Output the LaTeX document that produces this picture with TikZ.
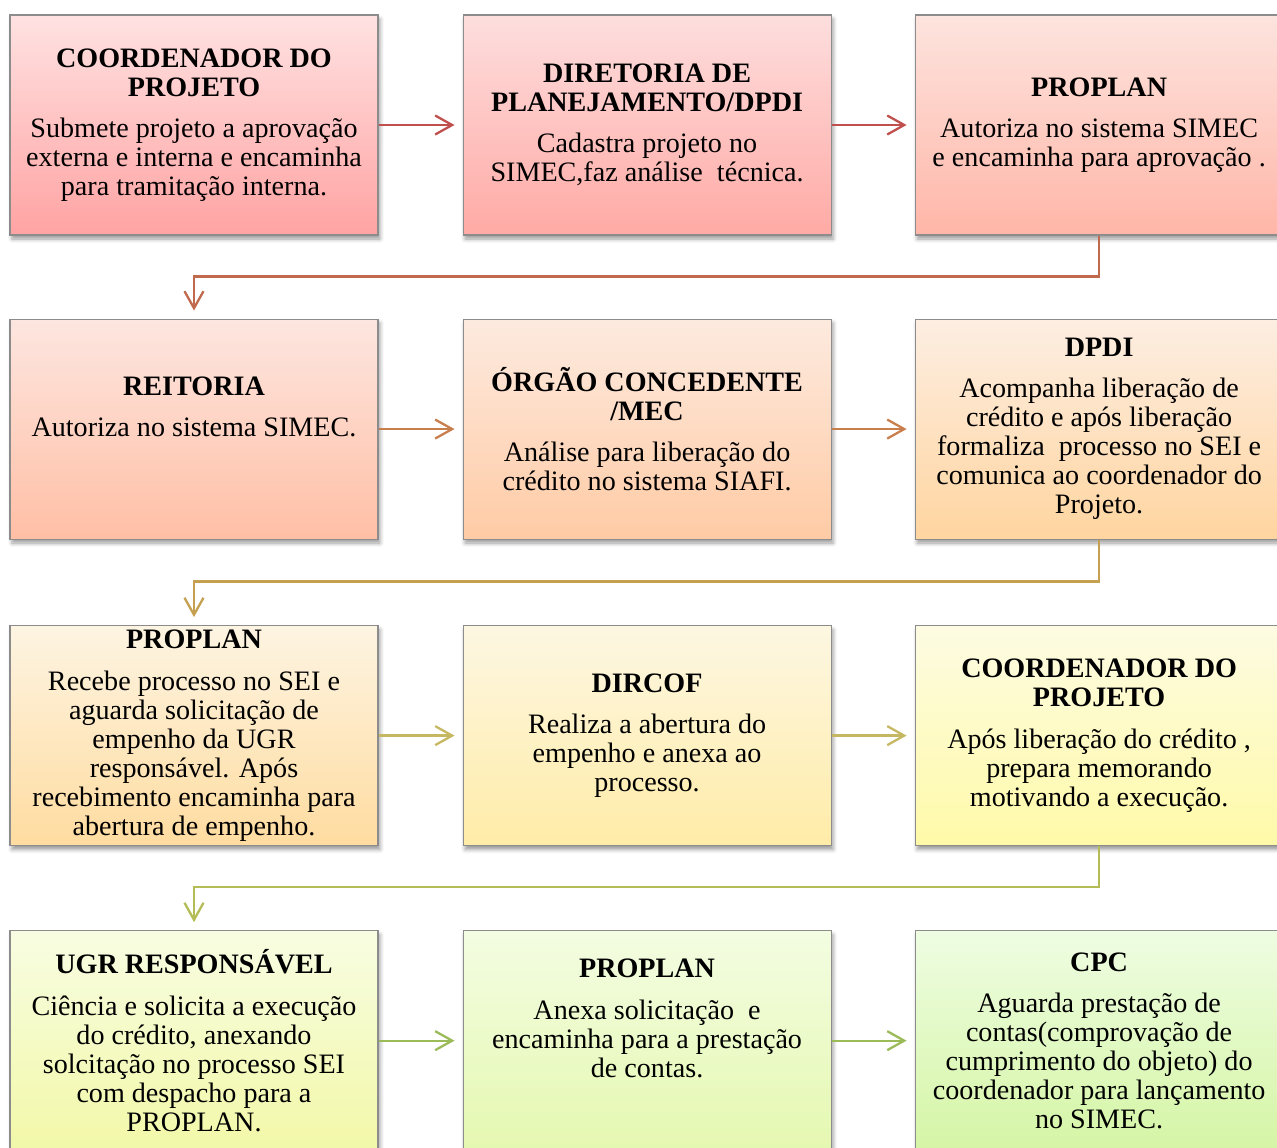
\documentclass[tikz,border=0pt]{standalone}
\usepackage{fontspec}
\setmainfont{Liberation Serif}
\usetikzlibrary{arrows.meta,positioning,shadows.blur}
% box shading, top and bottom, row by row
\definecolor{ta}{HTML}{FFE2E2}\definecolor{ua}{HTML}{FFA3A3}
\definecolor{tb}{HTML}{FDDEDE}\definecolor{ub}{HTML}{FFAAA5}
\definecolor{tc}{HTML}{FDE4DE}\definecolor{uc}{HTML}{FFB6A8}
\definecolor{td}{HTML}{FDE6E0}\definecolor{ud}{HTML}{FFBFA5}
\definecolor{te}{HTML}{FDEADF}\definecolor{ue}{HTML}{FFCBA5}
\definecolor{tf}{HTML}{FDEEE2}\definecolor{uf}{HTML}{FFD5A0}
\definecolor{tg}{HTML}{FDF4E2}\definecolor{ug}{HTML}{FFDCA0}
\definecolor{th}{HTML}{FDF7E2}\definecolor{uh}{HTML}{FFECA8}
\definecolor{ti}{HTML}{FDFBE2}\definecolor{ui}{HTML}{FFFAA8}
\definecolor{tj}{HTML}{F8FDE2}\definecolor{uj}{HTML}{F2F8A8}
\definecolor{tk}{HTML}{F3FDE2}\definecolor{uk}{HTML}{E5F8B0}
\definecolor{tl}{HTML}{EEFDE2}\definecolor{ul}{HTML}{D5F5A5}
% connector colours
\definecolor{ka}{HTML}{C0504D}\definecolor{kb}{HTML}{C0694C}
\definecolor{kc}{HTML}{C97E4E}\definecolor{kd}{HTML}{C4A050}
\definecolor{ke}{HTML}{C6B862}\definecolor{kf}{HTML}{B4BC55}
\definecolor{kg}{HTML}{9BBB59}
\definecolor{boxline}{HTML}{8C8C8C}
\tikzset{
  bx/.style 2 args = {rectangle, align=center, draw=boxline, line width=0.6pt,
    minimum width=7.36cm, minimum height=4.4cm, inner sep=0pt,
    font=\fontsize{16}{16.5}\selectfont, top color=#1, bottom color=#2,
    blur shadow={shadow xshift=0.4mm, shadow yshift=-0.8mm,
      shadow blur radius=0.8mm, shadow opacity=40}},% shaded step box
  ar/.style = {draw=#1, line width=1.3pt, shorten >=1.6mm,
    -{Straight Barb[length=3.4mm,width=3.8mm]}}% open arrow
}

\begin{document}
\begin{tikzpicture}
\useasboundingbox (-3.88,-20.44) rectangle (21.66,2.5);

\node[bx={ta}{ua}] (coord) at (0,0) {\textbf{COORDENADOR DO}\\\textbf{PROJETO}\\[7pt]
  Submete projeto a aprovação\\externa e interna e encaminha\\para tramitação interna.};
\node[bx={tb}{ub}, right=1.68cm of coord] (dirplan) {\textbf{DIRETORIA DE}\\\textbf{PLANEJAMENTO/DPDI}\\[7pt]
  Cadastra projeto no\\SIMEC,faz análise~ técnica.};
\node[bx={tc}{uc}, right=1.66cm of dirplan] (proplana) {\textbf{PROPLAN}\\[7pt]
  Autoriza no sistema SIMEC\\e encaminha para aprovação .};

\node[bx={td}{ud}, below=1.66cm of coord] (reitoria) {\textbf{REITORIA}\\[7pt]
  Autoriza no sistema SIMEC.\\[9pt]\mbox{}};
\node[bx={te}{ue}, right=1.68cm of reitoria] (orgao) {\textbf{ÓRGÃO CONCEDENTE}\\\textbf{/MEC}\\[7pt]
  Análise para liberação do\\crédito no sistema SIAFI.};
\node[bx={tf}{uf}, right=1.66cm of orgao] (dpdi) {\textbf{DPDI}\\[7pt]
  Acompanha liberação de\\crédito e após liberação\\formaliza~ processo no SEI e\\comunica ao coordenador do\\Projeto.};

\node[bx={tg}{ug}, below=1.71cm of reitoria] (proplanb) {\textbf{PROPLAN}\\[7pt]
  Recebe processo no SEI e\\aguarda solicitação de\\empenho da UGR\\responsável. Após\\recebimento encaminha para\\abertura de empenho.};
\node[bx={th}{uh}, right=1.68cm of proplanb] (dircof) {\textbf{DIRCOF}\\[7pt]
  Realiza a abertura do\\empenho e anexa ao\\processo.};
\node[bx={ti}{ui}, right=1.66cm of dircof] (coordb) {\textbf{COORDENADOR DO}\\\textbf{PROJETO}\\[7pt]
  Após liberação do crédito ,\\prepara memorando\\motivando a execução.};

\node[bx={tj}{uj}, below=1.68cm of proplanb] (ugr) {\textbf{UGR RESPONSÁVEL}\\[7pt]
  Ciência e solicita a execução\\do crédito, anexando\\solcitação no processo SEI\\com despacho para a\\PROPLAN.};
\node[bx={tk}{uk}, right=1.68cm of ugr] (proplanc) {\textbf{PROPLAN}\\[7pt]
  Anexa solicitação~ e\\encaminha para a prestação\\de contas.\\[9pt]\mbox{}};
\node[bx={tl}{ul}, right=1.66cm of proplanc] (cpc) {\textbf{CPC}\\[7pt]
  Aguarda prestação de\\contas(comprovação de\\cumprimento do objeto) do\\coordenador para lançamento\\no SIMEC.};

% flow, left to right, then back to the next row
\draw[ar=ka] (coord) -- (dirplan);
\draw[ar=ka] (dirplan) -- (proplana);
\draw[ar=kb] (proplana.south) -- ++(0,-0.82) -| (reitoria.north);
\draw[ar=kc] (reitoria) -- (orgao);
\draw[ar=kc] (orgao) -- (dpdi);
\draw[ar=kd] (dpdi.south) -- ++(0,-0.84) -| (proplanb.north);
\draw[ar=ke] (proplanb) -- (dircof);
\draw[ar=ke] (dircof) -- (coordb);
\draw[ar=kf] (coordb.south) -- ++(0,-0.82) -| (ugr.north);
\draw[ar=kg] (ugr) -- (proplanc);
\draw[ar=kg] (proplanc) -- (cpc);
\end{tikzpicture}
\end{document}
